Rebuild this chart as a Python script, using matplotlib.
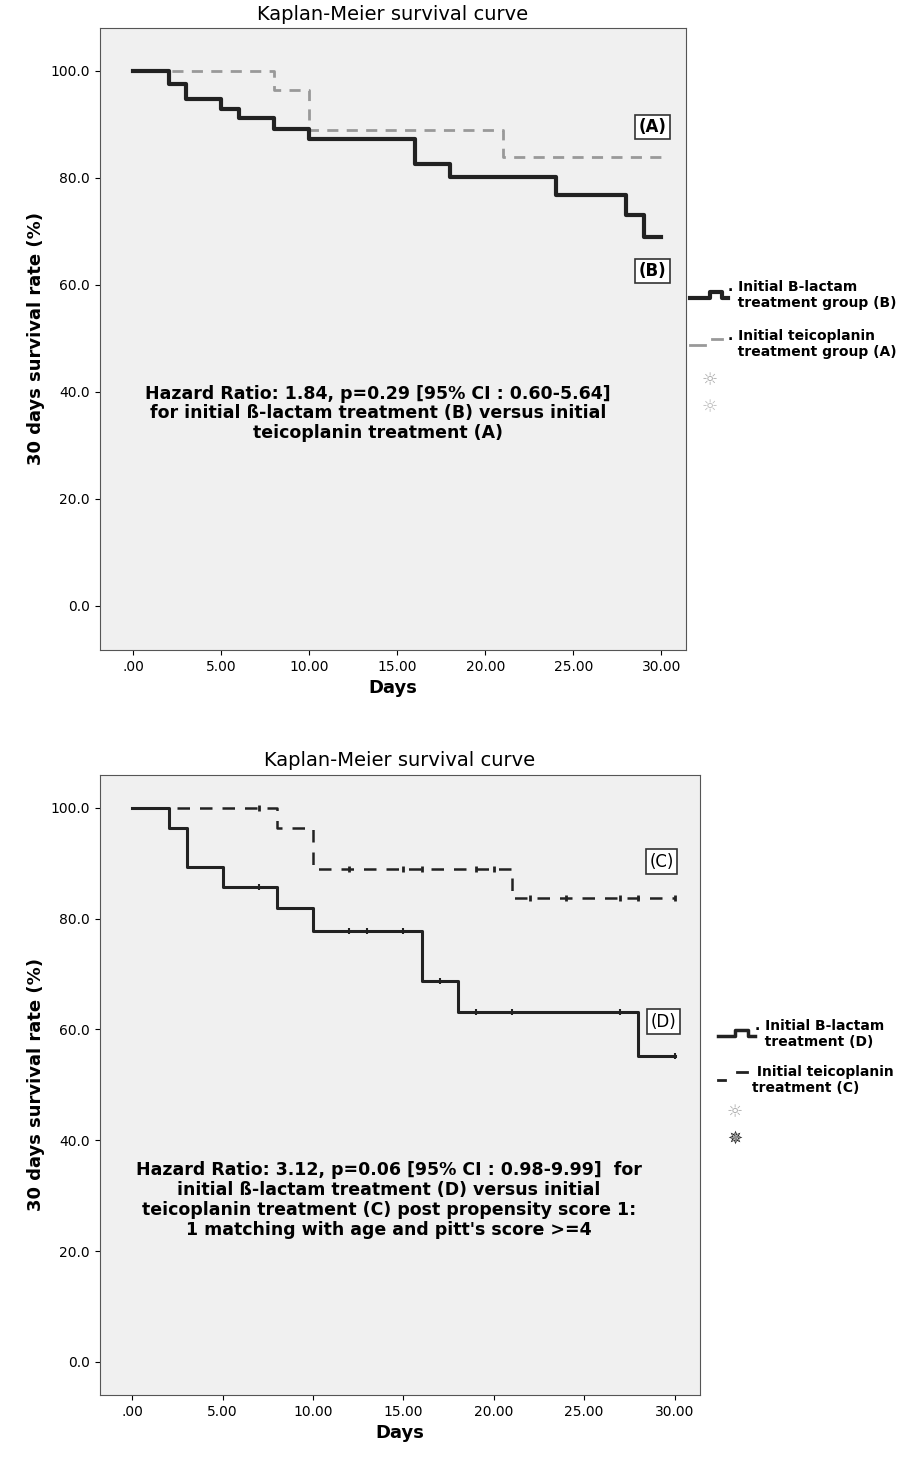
import matplotlib
matplotlib.use("Agg")
import matplotlib.pyplot as plt
from matplotlib.lines import Line2D

# Top chart
b_t = [0, 2, 3, 5, 6, 8, 10, 16, 18, 24, 28, 29, 30]
b_s = [100, 97.5, 94.8, 92.9, 91.2, 89.2, 87.3, 82.6, 80.2, 76.8, 73.1, 69.0, 69.0]
a_t = [0, 8, 10, 21, 30]
a_s = [100, 96.4, 89.0, 83.9, 83.9]
# Bottom chart
d_t = [0, 2, 3, 5, 8, 10, 16, 18, 28, 30]
d_s = [100, 96.4, 89.3, 85.7, 82.0, 77.8, 68.8, 63.2, 55.2, 55.2]
d_cens = [7, 12, 13, 15, 17, 19, 21, 27, 30]
c_t = [0, 8, 10, 21, 30]
c_s = [100, 96.4, 89.0, 83.8, 83.8]
c_cens = [7, 12, 15, 16, 19, 20, 22, 24, 27, 28, 30]

xticks = [0, 5, 10, 15, 20, 25, 30]
xlabels = [".00", "5.00", "10.00", "15.00", "20.00", "25.00", "30.00"]
yticks = [0, 20, 40, 60, 80, 100]
ylabels = ["0.0", "20.0", "40.0", "60.0", "80.0", "100.0"]

def surv_at(ts, ss, x):
    v = ss[0]
    for t, s in zip(ts, ss):
        if x >= t:
            v = s
    return v

fig = plt.figure(figsize=(9.16, 14.67), dpi=100)
fig.patch.set_facecolor("white")
ax1 = fig.add_axes([0.109, 0.557, 0.64, 0.424])
ax2 = fig.add_axes([0.109, 0.049, 0.655, 0.423])

for ax in (ax1, ax2):
    ax.set_facecolor("#f0f0f0")
    ax.set_xticks(xticks)
    ax.set_xticklabels(xlabels, fontsize=10)
    ax.set_yticks(yticks)
    ax.set_yticklabels(ylabels, fontsize=10)
    ax.set_xlabel("Days", fontsize=13, fontweight="bold")
    ax.set_ylabel("30 days survival rate (%)", fontsize=13, fontweight="bold")
    ax.set_title("Kaplan-Meier survival curve", fontsize=14, pad=6)
    for sp in ax.spines.values():
        sp.set_color("#555555")

ax1.set_xlim(-1.9, 31.4); ax1.set_ylim(-8.2, 108)
ax2.set_xlim(-1.8, 31.4); ax2.set_ylim(-6, 106)

ax1.step(a_t, a_s, where="post", color="#999999", lw=2, ls=(0, (4, 3)))
ax1.step(b_t, b_s, where="post", color="#222222", lw=3)

ax2.step(c_t, c_s, where="post", color="#222222", lw=1.8, ls=(0, (5, 4)))
ax2.step(d_t, d_s, where="post", color="#222222", lw=2.2)
ax2.plot(c_cens, [surv_at(c_t, c_s, x) for x in c_cens], ls="none", marker="|", ms=5, mew=2, color="#222222")
ax2.plot(d_cens, [surv_at(d_t, d_s, x) for x in d_cens], ls="none", marker="|", ms=4, mew=1.5, color="#222222")

bx = dict(boxstyle="square,pad=0.2", fc="white", ec="#333333", lw=1.2)
ax1.text(29.5, 89.5, "(A)", fontsize=12, fontweight="bold", ha="center", va="center", bbox=bx)
ax1.text(29.5, 62.6, "(B)", fontsize=12, fontweight="bold", ha="center", va="center", bbox=bx)
ax2.text(29.3, 90.3, "(C)", fontsize=12, ha="center", va="center", bbox=bx)
ax2.text(29.4, 61.4, "(D)", fontsize=12, ha="center", va="center", bbox=bx)

ax1.text(13.9, 36, "Hazard Ratio: 1.84, p=0.29 [95% CI : 0.60-5.64]\nfor initial ß-lactam treatment (B) versus initial\nteicoplanin treatment (A)",
         fontsize=12.5, fontweight="bold", ha="center", va="center", linespacing=1.1)
ax2.text(14.2, 29.2, "Hazard Ratio: 3.12, p=0.06 [95% CI : 0.98-9.99]  for\ninitial ß-lactam treatment (D) versus initial\nteicoplanin treatment (C) post propensity score 1:\n1 matching with age and pitt's score >=4",
         fontsize=12.5, fontweight="bold", ha="center", va="center", linespacing=1.15)

def fy(py):
    return 1 - py / 1467
def fx(px):
    return px / 916

# top legend
fig.add_artist(Line2D([fx(690), fx(710), fx(710), fx(722), fx(722), fx(728)],
                      [fy(298), fy(298), fy(292), fy(292), fy(298), fy(298)], color="#222222", lw=3))
fig.text(fx(728), fy(295), ". Initial B-lactam\n  treatment group (B)", fontsize=10, fontweight="bold", va="center")
fig.add_artist(Line2D([fx(690), fx(705)], [fy(345), fy(345)], color="#999999", lw=2))
fig.add_artist(Line2D([fx(712), fx(722)], [fy(339), fy(339)], color="#999999", lw=2))
fig.text(fx(728), fy(344), ". Initial teicoplanin\n  treatment group (A)", fontsize=10, fontweight="bold", va="center")
fig.text(fx(710), fy(380), "☼", fontsize=13, color="#aaaaaa", ha="center", va="center")
fig.text(fx(710), fy(407), "☼", fontsize=13, color="#bbbbbb", ha="center", va="center")

# bottom legend
fig.add_artist(Line2D([fx(718), fx(735), fx(735), fx(748), fx(748), fx(755)],
                      [fy(1036), fy(1036), fy(1030), fy(1030), fy(1036), fy(1036)], color="#222222", lw=2.5))
fig.text(fx(755), fy(1034), ". Initial B-lactam\n  treatment (D)", fontsize=10, fontweight="bold", va="center")
fig.add_artist(Line2D([fx(718), fx(725)], [fy(1080), fy(1080)], color="#222222", lw=2))
fig.add_artist(Line2D([fx(737), fx(747)], [fy(1072), fy(1072)], color="#222222", lw=2))
fig.text(fx(752), fy(1080), " Initial teicoplanin\ntreatment (C)", fontsize=10, fontweight="bold", va="center")
fig.text(fx(735), fy(1112), "☼", fontsize=13, color="#aaaaaa", ha="center", va="center")
fig.text(fx(735), fy(1139), "✵", fontsize=13, color="#222222", ha="center", va="center")

fig.savefig("out.png", dpi=100)
